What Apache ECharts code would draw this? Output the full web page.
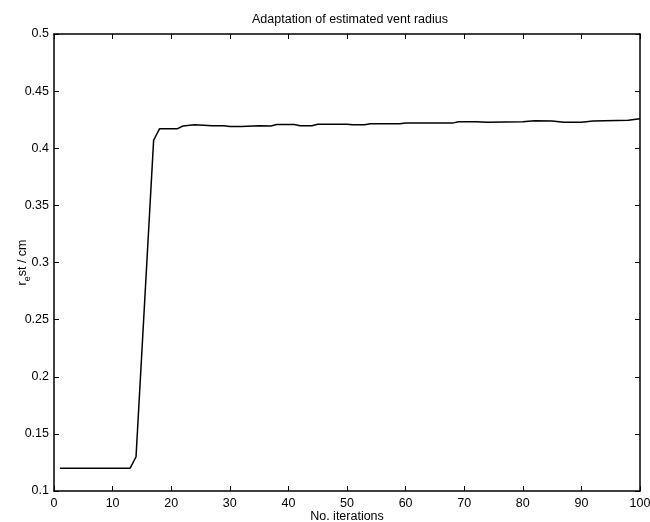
<!DOCTYPE html>
<html>
<head>
<meta charset="utf-8">
<script src="https://cdn.jsdelivr.net/npm/echarts@6/dist/echarts.min.js"></script>
<style>
  html, body { margin: 0; padding: 0; background: #fff; }
  #chart { width: 650px; height: 522px; }
</style>
</head>
<body>
<div id="chart"></div>
<script>
// iteration numbers and estimated vent radius
var iterations = [1, 13, 14, 17, 18, 21, 22, 24, 27, 29, 30, 32, 35, 37, 38, 41, 42, 44, 45, 50, 51, 53, 54, 59, 60, 68, 69, 72, 74, 80, 82, 85, 87, 90, 92, 98, 100];
var radius = [0.120, 0.120, 0.130, 0.407, 0.417, 0.417, 0.4195, 0.4205, 0.4198, 0.4197, 0.419, 0.419, 0.4197, 0.4194, 0.4207, 0.4207, 0.4197, 0.4197, 0.421, 0.421, 0.4205, 0.4206, 0.4215, 0.4215, 0.422, 0.422, 0.4232, 0.4232, 0.4227, 0.4232, 0.424, 0.4238, 0.4228, 0.4228, 0.4238, 0.4245, 0.4258];
var xTicks = [0, 10, 20, 30, 40, 50, 60, 70, 80, 90, 100];
var yTicks = [0.1, 0.15, 0.2, 0.25, 0.3, 0.35, 0.4, 0.45, 0.5];

var chart = echarts.init(document.getElementById('chart'));
var font = 'Liberation Sans, Arial, sans-serif';

var points = [];
for (var i = 0; i < iterations.length; i++) {
    points.push([iterations[i], radius[i]]);
}

function boxAxis(show) {
    return {
        axisLine: { show: true, onZero: false, lineStyle: { color: '#000', width: 1.5 } },
        axisTick: { show: true, inside: true, length: 5, lineStyle: { color: '#000', width: 1 } },
        axisLabel: { show: show, color: '#000', fontSize: 12.5, fontFamily: font },
        splitLine: { show: false }
    };
}

var xMain = Object.assign(boxAxis(true), {
    type: 'value', position: 'bottom', min: xTicks[0], max: xTicks[xTicks.length - 1], interval: 10,
    name: 'No. iterations', nameLocation: 'middle', nameGap: 19, nameMoveOverlap: false,
    nameTextStyle: { color: '#000', fontSize: 12.5, fontFamily: font }
});
xMain.axisLabel.margin = 6;
var xTop = Object.assign(boxAxis(false), {
    type: 'value', position: 'top', min: xTicks[0], max: xTicks[xTicks.length - 1], interval: 10
});
var yMain = Object.assign(boxAxis(true), {
    type: 'value', position: 'left', min: yTicks[0], max: yTicks[yTicks.length - 1], interval: 0.05,
    name: '{a|r}{b|e}{a|st / cm}', nameLocation: 'middle', nameGap: 22, nameRotate: 90, nameMoveOverlap: false,
    nameTextStyle: {
        color: '#000', fontFamily: font,
        rich: {
            a: { fontSize: 12.5, fontFamily: font, color: '#000', lineHeight: 18, verticalAlign: 'middle' },
            b: { fontSize: 9, fontFamily: font, color: '#000', lineHeight: 18, verticalAlign: 'bottom' }
        }
    }
});
yMain.axisLabel.margin = 5;
yMain.axisLabel.formatter = function (v) { return String(parseFloat(v.toFixed(2))); };
var yRight = Object.assign(boxAxis(false), {
    type: 'value', position: 'right', min: yTicks[0], max: yTicks[yTicks.length - 1], interval: 0.05
});

chart.setOption({
    backgroundColor: '#fff',
    animation: false,
    title: {
        text: 'Adaptation of estimated vent radius',
        left: 345, top: 8, textAlign: 'center',
        textStyle: { color: '#000', fontSize: 12.5, fontWeight: 'normal', fontFamily: font }
    },
    grid: { left: 54, right: 10, top: 34, bottom: 31, outerBoundsMode: 'none', containLabel: false },
    xAxis: [xMain, xTop],
    yAxis: [yMain, yRight],
    series: [{
        type: 'line',
        data: points,
        xAxisIndex: 0,
        yAxisIndex: 0,
        showSymbol: false,
        lineStyle: { color: '#000', width: 1.5 }
    }]
});
</script>
</body>
</html>
